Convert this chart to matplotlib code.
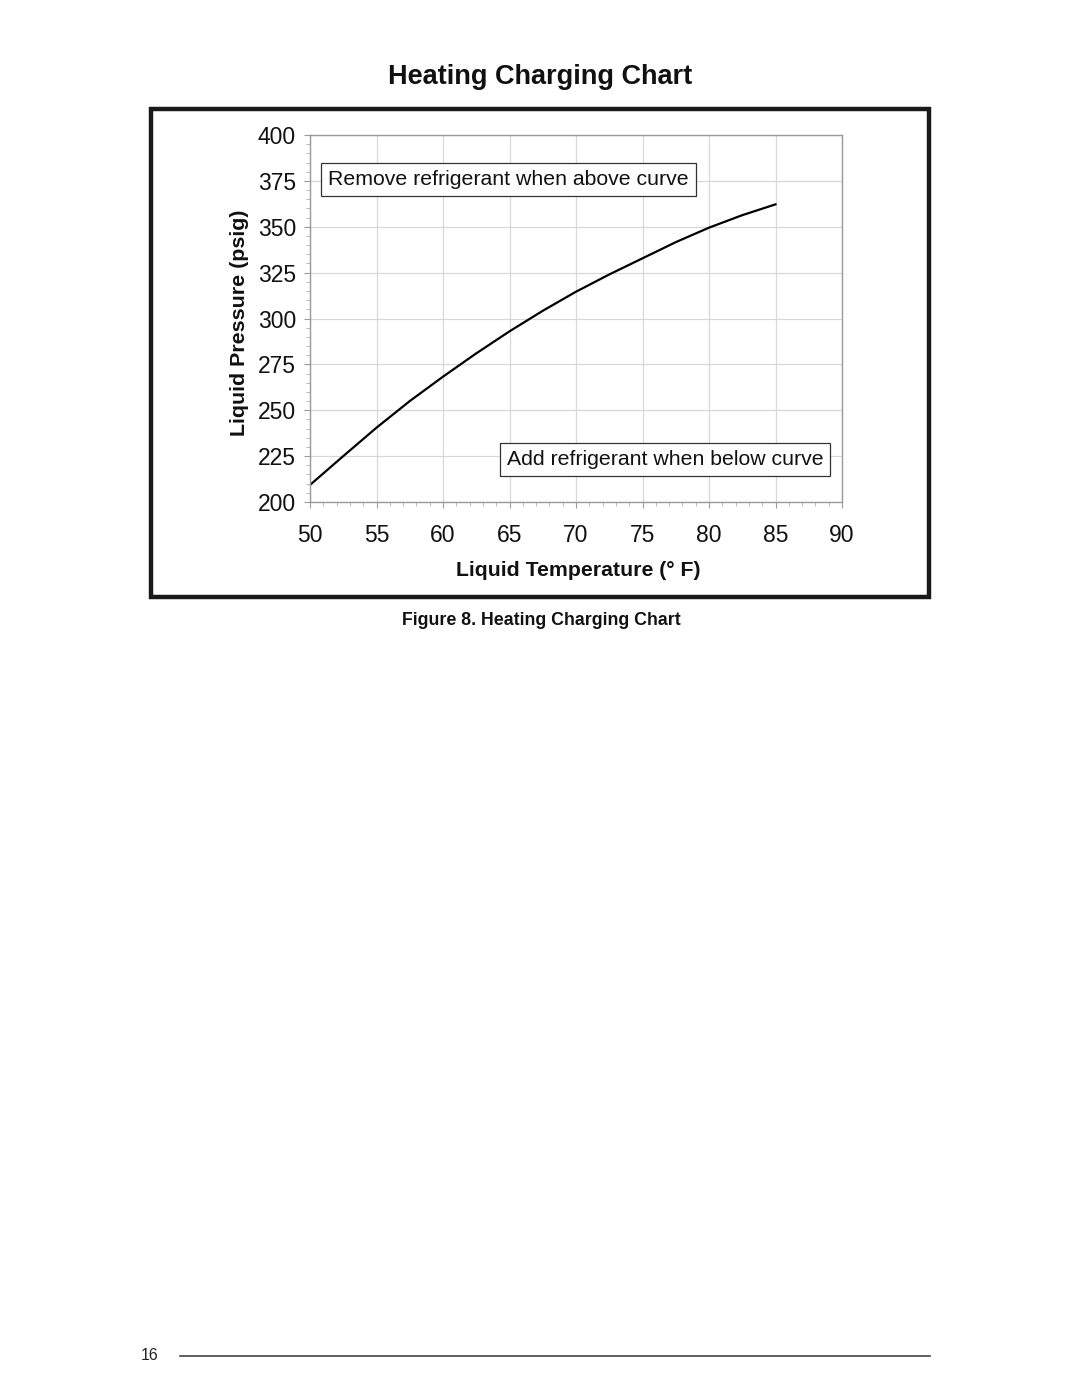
import matplotlib
matplotlib.use('Agg')
import matplotlib.pyplot as plt
from matplotlib.ticker import MultipleLocator
from matplotlib.patches import Rectangle
from matplotlib.lines import Line2D

plt.rcParams['font.family'] = ['Liberation Sans', 'DejaVu Sans']

# values
temp_f = [50, 52.5, 55, 57.5, 60, 62.5, 65, 67.5, 70, 72.5, 75, 77.5, 80, 82.5, 85]
pressure_psig = [209.3, 225, 240.5, 255, 268.3, 281, 293, 304.2, 314.6, 324,
                 332.8, 341.6, 349.5, 356.3, 362.2]
x_ticks = [50, 55, 60, 65, 70, 75, 80, 85, 90]
y_ticks = [200, 225, 250, 275, 300, 325, 350, 375, 400]

W, H = 1080, 1397
fig = plt.figure(figsize=(W / 100, H / 100), dpi=100)

def fx(px):
    return px / W

def fy(py):
    return 1 - py / H

# outer frame around the chart
fig.patches.append(Rectangle((fx(151), fy(597)), fx(929) - fx(151), fy(109) - fy(597),
                             transform=fig.transFigure, fill=False, lw=3.2, ec='#1a1a1a'))

ax = fig.add_axes([fx(310), fy(502), fx(842) - fx(310), fy(135) - fy(502)])
ax.plot(temp_f, pressure_psig, color='black', lw=1.6)
ax.set_xlim(50, 90)
ax.set_ylim(200, 400)
ax.set_xticks(x_ticks)
ax.set_yticks(y_ticks)
ax.xaxis.set_minor_locator(MultipleLocator(1))
ax.yaxis.set_minor_locator(MultipleLocator(5))
ax.grid(True, which='major', color='#d8d8d8', lw=0.9)
ax.set_axisbelow(True)
for s in ax.spines.values():
    s.set_color('#9a9a9a')
    s.set_linewidth(1.0)
ax.tick_params(axis='both', which='major', labelsize=16.5, colors='#9a9a9a',
               labelcolor='#111111', length=4, width=0.8)
ax.tick_params(axis='both', which='minor', colors='#b0b0b0', length=3, width=0.6)
ax.tick_params(axis='y', pad=6)
ax.tick_params(axis='x', pad=12)

ax.set_xlabel('Liquid Temperature (° F)', fontsize=15.3, fontweight='bold', color='#111111')
ax.set_ylabel('Liquid Pressure (psig)', fontsize=15.4, fontweight='bold', color='#111111')
ax.xaxis.label.set_va('center')
ax.xaxis.set_label_coords(0.505, -0.188)
ax.yaxis.label.set_va('center')
ax.yaxis.set_label_coords(-0.133, 0.489)

box = dict(boxstyle='square,pad=0.33', fc='white', ec='#333333', lw=0.9)
ax.text(64.92, 376, 'Remove refrigerant when above curve', fontsize=15.3,
        ha='center', va='center', bbox=box, color='#111111')
ax.text(76.69, 223.4, 'Add refrigerant when below curve', fontsize=15.3,
        ha='center', va='center', bbox=box, color='#111111')

fig.text(0.5, fy(77), 'Heating Charging Chart', fontsize=19.5, fontweight='bold',
         ha='center', va='center', color='#111111')
fig.text(0.501, fy(620), 'Figure 8. Heating Charging Chart', fontsize=12.8, fontweight='bold',
         ha='center', va='center', color='#111111')

# page footer
fig.text(fx(150), fy(1356), '16', fontsize=11.5, ha='center', va='center', color='#222222')
fig.lines.append(Line2D([fx(180), fx(930)], [fy(1356), fy(1356)],
                        transform=fig.transFigure, color='#444444', lw=1.2))

fig.savefig('out.png', dpi=100, facecolor='white')
